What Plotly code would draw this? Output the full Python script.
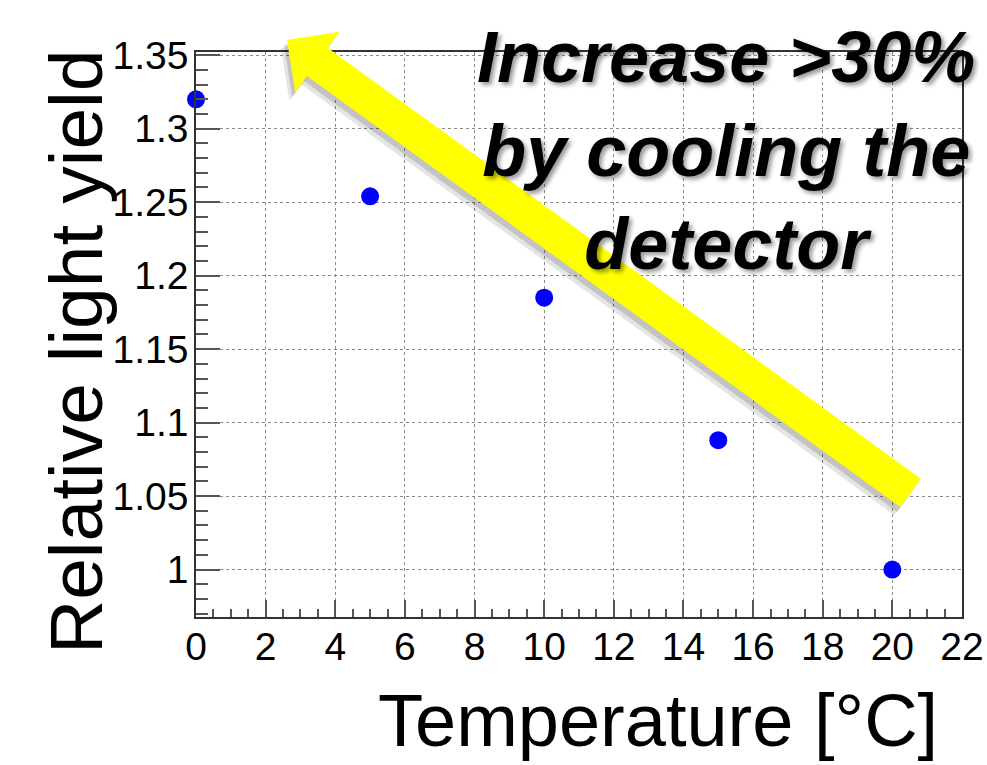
import plotly.graph_objects as go

# ---- data ----
temperature = [0, 5, 10, 15, 20]
light_yield = [1.320, 1.254, 1.185, 1.088, 1.000]
y_tickvals = [1.0, 1.05, 1.1, 1.15, 1.2, 1.25, 1.3, 1.35]
y_ticktext = ["1", "1.05", "1.1", "1.15", "1.2", "1.25", "1.3", "1.35"]
x_tickvals = [0, 2, 4, 6, 8, 10, 12, 14, 16, 18, 20, 22]
x_ticktext = [str(v) for v in x_tickvals]

W, H = 987, 765
ML, MR, MT, MB = 196, 25, 52, 148
PW, PH = W - ML - MR, H - MT - MB


def px(x):
    return (x - ML) / PW


def py(y):
    return (H - MB - y) / PH


FONT = "Liberation Sans, Arial, sans-serif"

fig = go.Figure()
fig.add_trace(go.Scatter(
    x=temperature, y=light_yield, mode="markers",
    marker=dict(color="#0000ff", size=18, line=dict(width=0)),
    showlegend=False, cliponaxis=False,
))

axis_common = dict(
    showline=True, linecolor="#333333", linewidth=1.5, mirror=True,
    ticks="inside", tickcolor="#555555", tickwidth=1.5,
    showgrid=True, gridcolor="#8a8a8a", griddash="dot", gridwidth=1,
    zeroline=False, automargin=False,
    tickfont=dict(family=FONT, size=39, color="black"),
)

fig.update_xaxes(
    range=[0, 22], tickvals=x_tickvals, ticktext=x_ticktext, ticklen=17,
    ticklabelstandoff=-6,
    minor=dict(dtick=0.5, ticklen=8, tickcolor="#555555", tickwidth=1.5, ticks="inside", showgrid=False),
    **axis_common,
)
fig.update_yaxes(
    range=[0.9677, 1.3522], tickvals=y_tickvals, ticktext=y_ticktext, ticklen=24,
    ticklabelstandoff=-2,
    minor=dict(dtick=0.01, ticklen=12, tickcolor="#555555", tickwidth=1.5, ticks="inside", showgrid=False),
    **axis_common,
)

annotations = []

# arrow geometry (pixels)
tip = (287, 40)
tail = (912, 494)
dx, dy = tail[0] - tip[0], tail[1] - tip[1]
L = (dx ** 2 + dy ** 2) ** 0.5
ux, uy = dx / L, dy / L
shaft_end = (tip[0] + 28 * ux, tip[1] + 28 * uy)


def arrow_parts(color, xs, ys):
    parts = []
    # shaft
    parts.append(dict(
        x=px(shaft_end[0]), y=py(shaft_end[1]), xref="paper", yref="paper",
        ax=tail[0] - shaft_end[0], ay=tail[1] - shaft_end[1],
        text="", showarrow=True, arrowhead=0, arrowwidth=35, arrowcolor=color,
        xshift=xs, yshift=ys,
    ))
    # head
    parts.append(dict(
        x=px(tip[0]), y=py(tip[1]), xref="paper", yref="paper",
        ax=30 * ux, ay=30 * uy,
        text="", showarrow=True, arrowhead=1, arrowwidth=2, arrowsize=6.25,
        arrowcolor=color, xshift=xs, yshift=ys,
    ))
    return parts


annotations += arrow_parts("rgba(0,0,0,0.10)", -6, -8)
annotations += arrow_parts("rgba(0,0,0,0.14)", -3, -5)
annotations += arrow_parts("#ffff00", 0, 0)

annotations.append(dict(
    x=px(726), y=py(150), xref="paper", yref="paper",
    text="<b><i>Increase >30%<br>by cooling the<br>detector</i></b>",
    showarrow=False, xanchor="center", yanchor="middle", align="center",
    font=dict(family=FONT, size=72, color="black",
              shadow="3px 3px 4px rgba(0,0,0,0.4)"),
))

# axis titles (ROOT style, right aligned)
annotations.append(dict(
    x=px(940), y=py(720), xref="paper", yref="paper",
    text="Temperature [°C]", showarrow=False, xanchor="right", yanchor="middle",
    font=dict(family=FONT, size=74, color="black"),
))
annotations.append(dict(
    x=px(76), y=py(48), xref="paper", yref="paper",
    text="Relative light yield", showarrow=False, textangle=-90,
    xanchor="center", yanchor="top",
    font=dict(family=FONT, size=75, color="black"),
))

fig.update_layout(
    width=W, height=H,
    margin=dict(l=ML, r=MR, t=MT, b=MB, autoexpand=False),
    plot_bgcolor="white", paper_bgcolor="white",
    annotations=annotations,
)

fig.write_html("out.html")
